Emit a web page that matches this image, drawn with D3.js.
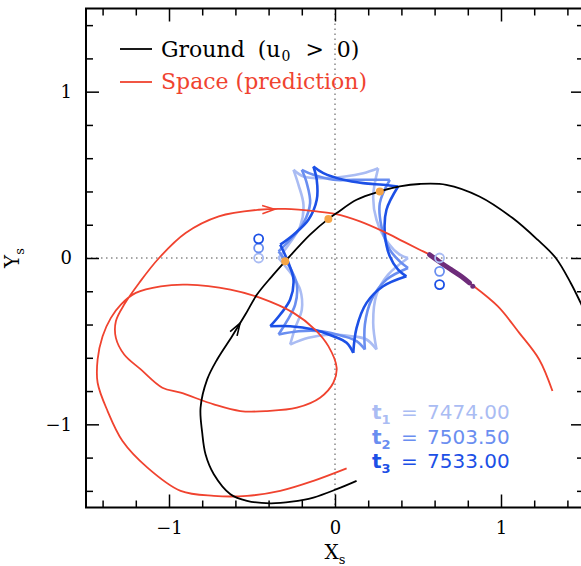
<!DOCTYPE html>
<html>
<head>
<meta charset="utf-8">
<script src="https://cdn.jsdelivr.net/npm/d3@7"></script>
<style>
  body { margin: 0; background: #fff; }
  svg { display: block; }
</style>
</head>
<body>
<div id="chart"></div>
<script>
// source trajectory seen from the ground (time runs along the arrow)
const groundTrack = [
  [0.13,-1.34],[0.01,-1.39],[-0.13,-1.44],[-0.26,-1.465],[-0.39,-1.475],[-0.53,-1.46],
  [-0.63,-1.42],[-0.73,-1.30],[-0.78,-1.18],[-0.80,-1.05],[-0.81,-0.90],[-0.77,-0.73],
  [-0.71,-0.61],[-0.62,-0.47],[-0.54,-0.34],[-0.47,-0.22],[-0.38,-0.11],[-0.30,-0.02],
  [-0.15,0.14],[-0.04,0.235],[0.01,0.27],[0.13,0.35],[0.27,0.40],[0.39,0.43],[0.51,0.445],
  [0.67,0.44],[0.87,0.37],[1.07,0.24],[1.22,0.11],[1.33,0.0],[1.42,-0.15],[1.48,-0.27],[1.55,-0.42]
];

// predicted trajectory from space
const spaceTrack = [
  [0.07,-1.265],[-0.13,-1.34],[-0.33,-1.40],[-0.53,-1.43],[-0.73,-1.43],[-0.93,-1.40],
  [-1.13,-1.26],[-1.28,-1.10],[-1.37,-0.92],[-1.43,-0.75],[-1.43,-0.61],[-1.40,-0.47],
  [-1.35,-0.36],[-1.29,-0.28],[-1.20,-0.21],[-1.05,-0.17],[-0.89,-0.16],[-0.63,-0.19],
  [-0.45,-0.24],[-0.25,-0.33],[-0.12,-0.43],[-0.04,-0.53],[0.01,-0.66],[-0.01,-0.75],
  [-0.09,-0.84],[-0.23,-0.90],[-0.41,-0.92],[-0.57,-0.92],[-0.73,-0.88],[-0.93,-0.81],
  [-1.04,-0.78],[-1.17,-0.67],[-1.27,-0.58],[-1.32,-0.48],[-1.32,-0.38],[-1.27,-0.28],
  [-1.18,-0.15],[-1.06,0.0],[-0.90,0.15],[-0.70,0.25],[-0.46,0.29],[-0.30,0.295],
  [-0.11,0.28],[0.0,0.265],[0.15,0.22],[0.29,0.16],[0.41,0.10],[0.51,0.05],[0.57,0.02],
  [0.70,-0.07],[0.81,-0.15],[0.98,-0.29],[1.11,-0.45],[1.23,-0.61],[1.31,-0.80]
];

// space data actually covered
const spaceCovered = [[0.57,0.02],[0.64,-0.03],[0.70,-0.07],[0.76,-0.11],[0.81,-0.15]];
const spaceLast = [[0.83,-0.17]];

// ground source position at the three epochs
const groundAtEpochs = [[-0.30,-0.02],[-0.04,0.235],[0.27,0.40]];

// caustics at t1, t2, t3 (cusps at indices in cuspIndex)
const causticT1 = [
  [-0.25,0.53],[-0.19,0.49],[-0.07,0.48],[0.06,0.49],[0.17,0.51],[0.26,0.54],
  [0.23,0.37],[0.25,0.23],[0.32,0.09],[0.39,0.02],[0.44,0.0],
  [0.32,-0.10],[0.25,-0.22],[0.23,-0.39],[0.25,-0.55],
  [0.19,-0.49],[0.10,-0.47],[-0.02,-0.46],[-0.16,-0.48],[-0.27,-0.52],
  [-0.24,-0.42],[-0.20,-0.31],[-0.21,-0.19],[-0.26,-0.10],[-0.34,0.0],
  [-0.28,0.08],[-0.21,0.19],[-0.19,0.32],[-0.22,0.44]
];
const causticT2 = [
  [-0.20,0.53],[-0.13,0.50],[-0.01,0.47],[0.11,0.47],[0.23,0.47],[0.33,0.47],
  [0.27,0.33],[0.28,0.19],[0.33,0.05],[0.39,-0.02],[0.44,-0.06],
  [0.31,-0.13],[0.22,-0.25],[0.18,-0.40],[0.18,-0.55],
  [0.13,-0.50],[0.05,-0.47],[-0.08,-0.44],[-0.22,-0.44],[-0.34,-0.46],
  [-0.29,-0.38],[-0.24,-0.28],[-0.23,-0.16],[-0.27,-0.06],[-0.34,0.04],
  [-0.27,0.11],[-0.19,0.21],[-0.15,0.33],[-0.17,0.45]
];
const causticT3 = [
  [-0.13,0.55],[-0.07,0.51],[0.05,0.47],[0.17,0.45],[0.29,0.44],[0.38,0.43],
  [0.31,0.29],[0.30,0.15],[0.33,0.01],[0.38,-0.07],[0.43,-0.11],
  [0.29,-0.17],[0.19,-0.27],[0.13,-0.42],[0.11,-0.57],
  [0.07,-0.51],[-0.01,-0.47],[-0.13,-0.43],[-0.27,-0.41],[-0.39,-0.41],
  [-0.33,-0.34],[-0.27,-0.25],[-0.25,-0.13],[-0.28,-0.03],[-0.33,0.08],
  [-0.25,0.14],[-0.16,0.23],[-0.11,0.35],[-0.11,0.47]
];
const cuspIndex = [0, 5, 10, 14, 19, 24];

// lens positions at the three epochs
const lensLeft = [[-0.46,0.0],[-0.46,0.06],[-0.46,0.115]];
const lensRight = [[0.63,0.0],[0.63,-0.08],[0.63,-0.16]];

const epochLabels = ["7474.00", "7503.50", "7533.00"];
const epochColors = ["#aabcf3", "#6a8ef0", "#1c50e6"];

const xMajor = [-1, 0, 1];
const xMinor = [-1.4,-1.2,-0.8,-0.6,-0.4,-0.2,0.2,0.4,0.6,0.8,1.2,1.4];
const yMajor = [-1, 0, 1];
const yMinor = [-1.4,-1.2,-0.8,-0.6,-0.4,-0.2,0.2,0.4,0.6,0.8,1.2,1.4];

const width = 581, height = 566;
const frame = { left: 86, right: 584, top: 8.5, bottom: 507.5 };
const red = "#f0432f";

const svg = d3.select("#chart").append("svg")
  .attr("width", width)
  .attr("height", height);

const x = d3.scaleLinear().domain([-1.5, 1.5]).range([frame.left, frame.right]);
const y = d3.scaleLinear().domain([-1.5, 1.5]).range([frame.bottom, frame.top]);

svg.append("clipPath").attr("id", "plotclip")
  .append("rect")
  .attr("x", frame.left).attr("y", frame.top)
  .attr("width", frame.right - frame.left).attr("height", frame.bottom - frame.top);

const plot = svg.append("g").attr("clip-path", "url(#plotclip)");

// dotted zero lines
plot.append("line")
  .attr("x1", x(0)).attr("x2", x(0)).attr("y1", frame.top).attr("y2", frame.bottom)
  .attr("stroke", "#888").attr("stroke-width", 1.3).attr("stroke-dasharray", "1.5,3.5");
plot.append("line")
  .attr("x1", frame.left).attr("x2", frame.right).attr("y1", y(0)).attr("y2", y(0))
  .attr("stroke", "#888").attr("stroke-width", 1.3).attr("stroke-dasharray", "1.5,3.5");

// caustics, one edge at a time so cusps stay sharp
const edgeLine = d3.line().x(d => x(d[0])).y(d => y(d[1])).curve(d3.curveCatmullRom.alpha(0.5));
[causticT1, causticT2, causticT3].forEach((c, k) => {
  cuspIndex.forEach((start, i) => {
    const end = i + 1 < cuspIndex.length ? cuspIndex[i + 1] : c.length;
    const pts = c.slice(start, end).concat([c[end % c.length]]);
    plot.append("path")
      .attr("d", edgeLine(pts))
      .attr("fill", "none")
      .attr("stroke", epochColors[k])
      .attr("stroke-width", 2.6)
      .attr("stroke-linejoin", "round");
  });
});

const smooth = d3.line().x(d => x(d[0])).y(d => y(d[1])).curve(d3.curveCatmullRom.alpha(0.5));

// space trajectory
plot.append("path")
  .attr("d", smooth(spaceTrack))
  .attr("fill", "none").attr("stroke", red).attr("stroke-width", 1.8);

// ground trajectory
plot.append("path")
  .attr("d", smooth(groundTrack))
  .attr("fill", "none").attr("stroke", "#000").attr("stroke-width", 1.8);

// covered part of the space light curve
plot.append("path")
  .attr("d", smooth(spaceCovered))
  .attr("fill", "none").attr("stroke", "#6e2c7a").attr("stroke-width", 5).attr("stroke-linecap", "round");
plot.selectAll(".last").data(spaceLast).join("circle")
  .attr("cx", d => x(d[0])).attr("cy", d => y(d[1])).attr("r", 2.5).attr("fill", "#6e2c7a");

// lens circles
[lensLeft, lensRight].forEach(set => {
  plot.selectAll(null).data(set).join("circle")
    .attr("cx", d => x(d[0])).attr("cy", d => y(d[1])).attr("r", 4.5)
    .attr("fill", "none").attr("stroke", (d, i) => epochColors[i]).attr("stroke-width", 1.8);
});

// source positions at the epochs
plot.selectAll(".src").data(groundAtEpochs).join("circle")
  .attr("cx", d => x(d[0])).attr("cy", d => y(d[1])).attr("r", 4)
  .attr("fill", "#f5a445");

// open arrow heads along the tracks
function arrowHead(track, i, color) {
  const a = track[i], b = track[i + 1];
  const ang = Math.atan2(y(b[1]) - y(a[1]), x(b[0]) - x(a[0]));
  const tx = x(a[0]) + 0.6 * (x(b[0]) - x(a[0]));
  const ty = y(a[1]) + 0.6 * (y(b[1]) - y(a[1]));
  const L = 13, spread = 0.32;
  const p1 = [tx - L * Math.cos(ang - spread), ty - L * Math.sin(ang - spread)];
  const p2 = [tx - L * Math.cos(ang + spread), ty - L * Math.sin(ang + spread)];
  plot.append("path")
    .attr("d", `M${p1[0]},${p1[1]}L${tx},${ty}L${p2[0]},${p2[1]}`)
    .attr("fill", "none").attr("stroke", color).attr("stroke-width", 1.6);
}
arrowHead(spaceTrack, 40, red);
arrowHead(groundTrack, 13, "#000");

// axes (ticks drawn inward on all four sides)
const tickFont = "'DejaVu Serif', serif";
function addAxis(axisFn, scale, transform, major, minor, labels) {
  svg.append("g").attr("transform", transform)
    .call(axisFn(scale).tickValues(minor).tickSize(-7).tickFormat(""))
    .call(g => g.select(".domain").remove());
  const g = svg.append("g").attr("transform", transform)
    .call(axisFn(scale).tickValues(major).tickSize(-13).tickPadding(labels ? 14 : 0)
      .tickFormat(labels ? (d => d < 0 ? "\u2212" + Math.abs(d) : d) : ""))
    .call(g => g.select(".domain").remove());
  g.selectAll("line").attr("stroke", "#000");
  g.selectAll("text").attr("font-family", tickFont).attr("font-size", 18).attr("fill", "#000");
  svg.selectAll("g line").attr("stroke-width", 1.5);
}
addAxis(d3.axisBottom, x, `translate(0,${frame.bottom})`, xMajor, xMinor, true);
addAxis(d3.axisTop, x, `translate(0,${frame.top})`, xMajor, xMinor, false);
addAxis(d3.axisLeft, y, `translate(${frame.left},0)`, yMajor, yMinor, true);
addAxis(d3.axisRight, y, `translate(${frame.right},0)`, yMajor, yMinor, false);

svg.append("rect")
  .attr("x", frame.left).attr("y", frame.top)
  .attr("width", frame.right - frame.left).attr("height", frame.bottom - frame.top)
  .attr("fill", "none").attr("stroke", "#000").attr("stroke-width", 2);

// axis titles
const xt = svg.append("text").attr("x", x(0)).attr("y", 559).attr("text-anchor", "middle")
  .attr("font-family", tickFont).attr("font-size", 20);
xt.append("tspan").text("X");
xt.append("tspan").attr("font-size", 13).attr("dy", 5).text("s");

const yt = svg.append("text").attr("transform", `translate(19,${y(0)}) rotate(-90)`)
  .attr("text-anchor", "middle").attr("font-family", tickFont).attr("font-size", 20);
yt.append("tspan").text("Y");
yt.append("tspan").attr("font-size", 13).attr("dy", 5).text("s");

// legend
const legendFont = "'DejaVu Serif', serif";
svg.append("line").attr("x1", 120).attr("x2", 152).attr("y1", 49).attr("y2", 49)
  .attr("stroke", "#000").attr("stroke-width", 1.8);
const g1 = svg.append("text").attr("x", 161).attr("y", 57)
  .attr("font-family", legendFont).attr("font-size", 22).attr("fill", "#000")
  .attr("word-spacing", 6);
g1.append("tspan").text("Ground (u");
g1.append("tspan").attr("font-size", 14).attr("dy", 4).attr("dx", 1).text("0");
g1.append("tspan").attr("dy", -4).attr("dx", 2).text(" > 0)");

svg.append("line").attr("x1", 120).attr("x2", 152).attr("y1", 82).attr("y2", 82)
  .attr("stroke", red).attr("stroke-width", 1.8);
svg.append("text").attr("x", 161).attr("y", 89)
  .attr("font-family", legendFont).attr("font-size", 22).attr("fill", red)
  .text("Space (prediction)");

// epoch labels
const epochFont = "'DejaVu Sans', sans-serif";
epochLabels.forEach((lab, i) => {
  const by = 419 + i * 24.5;
  const t = svg.append("text").attr("x", 372).attr("y", by)
    .attr("font-family", epochFont).attr("font-size", 20).attr("fill", epochColors[i])
    .attr("font-weight", "bold");
  t.append("tspan").text("t");
  t.append("tspan").attr("font-size", 13).attr("dy", 5).text(i + 1);
  svg.append("text").attr("x", 401).attr("y", by)
    .attr("font-family", epochFont).attr("font-size", 20).attr("fill", epochColors[i])
    .text("=");
  svg.append("text").attr("x", 427).attr("y", by)
    .attr("font-family", epochFont).attr("font-size", 20).attr("fill", epochColors[i])
    .text(lab);
});
</script>
</body>
</html>
